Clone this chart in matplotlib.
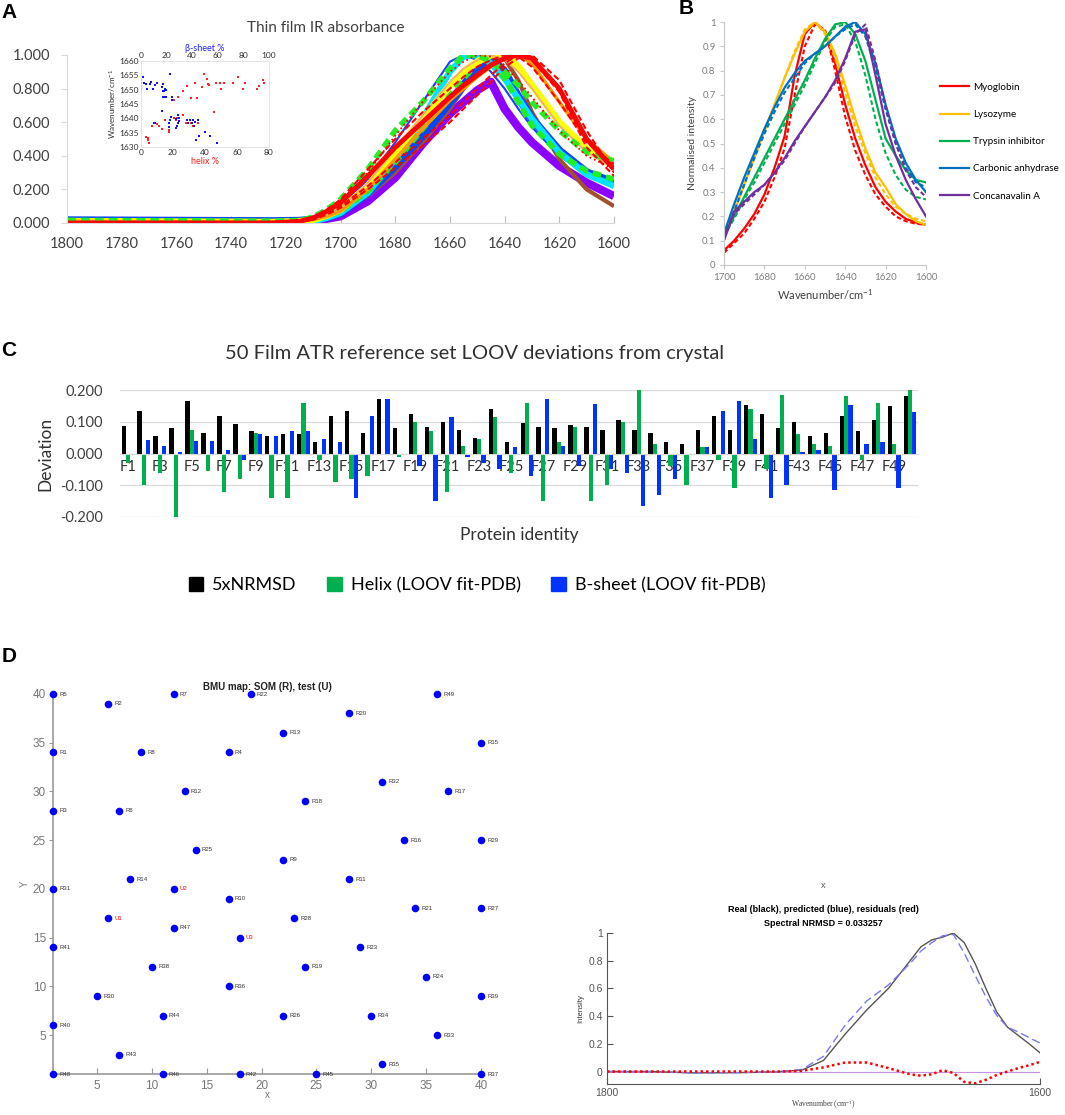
import numpy as np
import matplotlib
matplotlib.use("Agg")
import matplotlib.pyplot as plt
from matplotlib.patches import Patch
from matplotlib.ticker import FormatStrFormatter

plt.rcParams['font.family'] = ['Lato', 'DejaVu Sans']
plt.rcParams['mathtext.default'] = 'regular'
EXCEL = ['Lato', 'DejaVu Sans']
MATLAB = ['Liberation Sans', 'DejaVu Sans']

# ---------------- panel A: thin film spectra ----------------
wn_a = [1800, 1725, 1715, 1710, 1705, 1700, 1690, 1680, 1670, 1660,
        1655, 1650, 1645, 1640, 1635, 1630, 1620, 1610, 1600]
a_purple = [0.010, 0.005, 0.010, 0.015, 0.025, 0.040, 0.130, 0.270, 0.470, 0.650,
            0.720, 0.790, 0.840, 0.680, 0.570, 0.480, 0.340, 0.240, 0.160]
a_brown = [0.010, 0.005, 0.010, 0.020, 0.040, 0.070, 0.160, 0.300, 0.480, 0.680,
           0.800, 0.900, 0.970, 0.980, 0.850, 0.660, 0.380, 0.200, 0.100]
a_blue = [0.015, 0.010, 0.012, 0.020, 0.035, 0.060, 0.180, 0.340, 0.520, 0.720,
          0.820, 0.920, 0.980, 0.900, 0.750, 0.620, 0.430, 0.300, 0.240]
a_blue2 = [0.015, 0.010, 0.015, 0.030, 0.060, 0.100, 0.260, 0.480, 0.720, 0.960,
           1.000, 0.970, 0.900, 0.800, 0.680, 0.570, 0.400, 0.290, 0.230]
a_cyan = [0.005, 0.000, 0.005, 0.010, 0.030, 0.060, 0.180, 0.380, 0.620, 0.900,
          0.990, 1.000, 0.950, 0.860, 0.740, 0.620, 0.420, 0.290, 0.220]
a_green2 = [0.010, 0.005, 0.010, 0.020, 0.040, 0.070, 0.190, 0.360, 0.560, 0.760,
            0.860, 0.950, 1.000, 0.860, 0.720, 0.580, 0.410, 0.310, 0.260]
a_yellow = [0.010, 0.005, 0.010, 0.020, 0.045, 0.080, 0.220, 0.420, 0.620, 0.820,
            0.900, 0.960, 1.000, 1.000, 0.930, 0.820, 0.600, 0.440, 0.340]
a_orange = [0.010, 0.005, 0.010, 0.020, 0.040, 0.070, 0.200, 0.380, 0.560, 0.730,
            0.800, 0.870, 0.930, 0.980, 1.000, 0.950, 0.720, 0.500, 0.360]
a_salmon = [0.010, 0.005, 0.010, 0.020, 0.050, 0.090, 0.240, 0.440, 0.640, 0.840,
            0.920, 0.970, 1.000, 0.970, 0.900, 0.800, 0.580, 0.420, 0.330]
a_green1 = [0.015, 0.010, 0.015, 0.035, 0.080, 0.140, 0.320, 0.550, 0.720, 0.920,
            1.000, 1.000, 0.960, 0.900, 0.820, 0.720, 0.550, 0.420, 0.370]
a_red1 = [0.000, 0.000, 0.010, 0.030, 0.070, 0.120, 0.280, 0.450, 0.600, 0.750,
          0.820, 0.880, 0.940, 0.980, 1.000, 0.980, 0.800, 0.500, 0.320]
a_red2 = [0.000, 0.000, 0.010, 0.025, 0.060, 0.100, 0.220, 0.360, 0.500, 0.640,
          0.720, 0.800, 0.880, 0.950, 1.000, 0.970, 0.780, 0.450, 0.280]
a_red3 = [0.005, 0.000, 0.010, 0.035, 0.080, 0.140, 0.320, 0.500, 0.660, 0.800,
          0.870, 0.930, 0.970, 1.000, 0.990, 0.930, 0.720, 0.480, 0.350]
a_red4 = [0.005, 0.000, 0.010, 0.030, 0.070, 0.120, 0.300, 0.520, 0.720, 0.900,
          0.960, 1.000, 0.990, 0.930, 0.850, 0.750, 0.550, 0.400, 0.320]
a_red5 = [0.000, 0.000, 0.008, 0.020, 0.050, 0.090, 0.200, 0.330, 0.460, 0.600,
          0.680, 0.760, 0.840, 0.930, 0.980, 1.000, 0.850, 0.550, 0.300]

# inset: band position vs secondary structure content
helix_pct = [20.8, 23.3, 26.0, 28.9, 31.0, 34.7, 33.8, 37.9, 39.6, 41.0, 42.0, 42.7,
             46.8, 49.3, 49.9, 52.0, 57.6, 60.7, 63.8, 64.9, 72.8, 73.9, 76.0, 76.8,
             0.0, 0.0, 3.4, 4.2, 4.6, 5.2, 7.1, 8.5, 10.2, 11.4, 13.3, 15.0, 17.5, 17.5,
             20.8, 22.3, 21.8, 26.0, 28.1, 31.2, 32.3, 35.4, 45.8]
helix_wn = [1646.4, 1647.3, 1649.6, 1651.4, 1647.2, 1647.2, 1652.4, 1650.8, 1655.5, 1653.8,
            1652.0, 1651.5, 1652.4, 1652.4, 1650.3, 1652.4, 1652.4, 1654.3, 1650.3, 1652.4,
            1650.3, 1651.2, 1653.4, 1652.4,
            1640.2, 1637.3, 1633.4, 1633.3, 1632.5, 1631.3, 1637.2, 1638.4, 1637.9, 1637.5,
            1636.4, 1639.4, 1635.8, 1635.2, 1640.2, 1640.2, 1639.5, 1641.0, 1638.4, 1638.4,
            1637.3, 1638.4, 1642.3]
beta_pct = [1.3, 0.0, 0.0, 0.0, 0.0, 2.3, 3.8, 4.9, 6.7, 8.2, 9.2, 11.0, 12.5, 16.9,
            16.7, 17.2, 18.7, 22.6, 19.5, 16.9, 18.5, 19.5, 18.0, 24.0, 24.5,
            16.6, 11.0, 10.0, 23.3, 22.6, 21.5, 22.0, 27.0, 29.0, 29.5, 30.0, 28.5, 27.0,
            29.0, 36.1, 37.9, 40.4, 36.7, 40.0, 42.3, 44.4, 41.5, 49.7, 53.6, 45.1, 43.3,
            59.2]
beta_wn = [1654.5, 1653.4, 1652.2, 1651.2, 1650.3, 1652.4, 1652.0, 1650.4, 1652.0, 1652.7,
           1650.4, 1651.6, 1652.2, 1652.0, 1651.0, 1649.7, 1650.2, 1655.6, 1650.0, 1647.3,
           1647.3, 1647.3, 1649.5, 1646.3, 1647.3,
           1642.6, 1638.5, 1638.5, 1640.3, 1639.4, 1638.4, 1637.1, 1639.7, 1641.0, 1640.1,
           1639.0, 1637.2, 1636.5, 1638.4, 1639.5, 1639.5, 1639.5, 1638.5, 1638.5, 1638.7,
           1639.5, 1637.2, 1635.4, 1633.7, 1633.7, 1632.5, 1631.5]

# ---------------- panel B: model proteins, fit (solid) vs measured (dashed) ----------------
wn_b = [1700, 1695, 1690, 1685, 1680, 1675, 1670, 1665, 1660, 1655, 1650,
        1645, 1640, 1635, 1630, 1625, 1620, 1615, 1610, 1605, 1600]
b_names = ['Myoglobin', 'Lysozyme', 'Trypsin inhibitor', 'Carbonic anhydrase', 'Concanavalin A']
b_colors = ['#FF0000', '#FFC000', '#00B050', '#0070C0', '#7030A0']
myo_solid = [0.06, 0.10, 0.15, 0.21, 0.29, 0.40, 0.53, 0.78, 0.95, 1.00, 0.96,
             0.83, 0.66, 0.52, 0.41, 0.32, 0.26, 0.22, 0.19, 0.175, 0.165]
myo_dash = [0.05, 0.09, 0.13, 0.19, 0.26, 0.36, 0.48, 0.70, 0.90, 0.99, 0.97,
            0.80, 0.61, 0.47, 0.37, 0.29, 0.24, 0.20, 0.18, 0.17, 0.165]
lys_solid = [0.12, 0.22, 0.33, 0.44, 0.55, 0.66, 0.77, 0.87, 0.96, 1.00, 0.96,
             0.87, 0.74, 0.60, 0.48, 0.38, 0.32, 0.25, 0.21, 0.18, 0.165]
lys_dash = [0.12, 0.22, 0.33, 0.44, 0.55, 0.66, 0.77, 0.88, 0.97, 1.00, 0.95,
            0.85, 0.71, 0.57, 0.46, 0.36, 0.29, 0.24, 0.21, 0.19, 0.18]
tryp_solid = [0.12, 0.20, 0.28, 0.36, 0.44, 0.52, 0.60, 0.68, 0.76, 0.85, 0.93,
              0.99, 1.00, 0.95, 0.84, 0.68, 0.52, 0.45, 0.39, 0.35, 0.34]
tryp_dash = [0.12, 0.19, 0.27, 0.34, 0.42, 0.50, 0.58, 0.66, 0.74, 0.83, 0.92,
             0.98, 0.99, 0.92, 0.78, 0.60, 0.46, 0.37, 0.31, 0.28, 0.27]
carb_solid = [0.13, 0.25, 0.36, 0.46, 0.56, 0.65, 0.73, 0.79, 0.84, 0.87, 0.90,
              0.94, 0.98, 1.00, 0.95, 0.83, 0.66, 0.52, 0.42, 0.35, 0.30]
carb_dash = [0.12, 0.22, 0.33, 0.44, 0.54, 0.63, 0.71, 0.77, 0.83, 0.87, 0.90,
             0.94, 0.97, 0.99, 0.94, 0.81, 0.64, 0.50, 0.40, 0.34, 0.32]
conc_solid = [0.10, 0.22, 0.26, 0.30, 0.33, 0.38, 0.44, 0.51, 0.57, 0.63, 0.69,
              0.76, 0.85, 0.96, 0.97, 0.78, 0.58, 0.45, 0.35, 0.27, 0.20]
conc_dash = [0.11, 0.21, 0.25, 0.29, 0.33, 0.38, 0.43, 0.50, 0.57, 0.63, 0.69,
             0.75, 0.84, 0.95, 0.99, 0.84, 0.65, 0.50, 0.39, 0.32, 0.28]

# ---------------- panel C: LOOV deviations ----------------
c_labels = ['F%d' % i for i in range(1, 51)]
c_nrmsd = [0.088, 0.134, 0.055, 0.080, 0.166, 0.065, 0.118, 0.093, 0.070, 0.055,
           0.060, 0.062, 0.035, 0.118, 0.134, 0.065, 0.171, 0.080, 0.124, 0.085,
           0.100, 0.075, 0.050, 0.140, 0.035, 0.095, 0.085, 0.080, 0.090, 0.085,
           0.075, 0.105, 0.075, 0.065, 0.035, 0.030, 0.075, 0.118, 0.075, 0.152,
           0.124, 0.080, 0.100, 0.055, 0.065, 0.118, 0.070, 0.105, 0.150, 0.182]
c_helix = [-0.030, -0.100, -0.060, -0.200, 0.075, -0.055, -0.120, -0.080, 0.065, -0.140,
           -0.140, 0.158, -0.020, -0.090, -0.080, -0.070, 0.000, -0.010, 0.100, 0.070,
           -0.120, 0.025, 0.045, 0.115, -0.060, 0.159, -0.150, 0.035, 0.085, -0.150,
           -0.100, 0.100, 0.200, 0.030, -0.040, -0.100, 0.020, -0.020, -0.110, 0.140,
           -0.050, 0.185, 0.060, 0.030, 0.025, 0.182, -0.020, 0.159, 0.030, 0.200]
c_sheet = [0.000, 0.042, 0.025, 0.005, 0.040, 0.040, 0.010, -0.020, 0.060, 0.055,
           0.070, 0.070, 0.045, 0.035, -0.140, 0.118, 0.171, 0.000, -0.040, -0.150,
           0.114, -0.010, -0.030, -0.050, 0.020, -0.070, 0.171, 0.025, -0.040, 0.156,
           -0.050, -0.060, -0.165, -0.130, -0.080, 0.000, 0.020, 0.133, 0.165, 0.045,
           -0.140, -0.100, 0.005, 0.010, -0.115, 0.152, 0.030, 0.035, -0.110, 0.130]

# ---------------- panel D: SOM best matching units ----------------
r_names = ['R5', 'R2', 'R7', 'R22', 'R1', 'R8', 'R4', 'R12', 'R3', 'R6',
           'R25', 'R14', 'R31', 'R10', 'R41', 'R47', 'R38', 'R36', 'R30', 'R44',
           'R40', 'R43', 'R48', 'R46', 'R42', 'R49', 'R20', 'R13', 'R15', 'R32',
           'R17', 'R18', 'R16', 'R29', 'R9', 'R11', 'R21', 'R27', 'R28', 'R23',
           'R19', 'R24', 'R39', 'R26', 'R34', 'R33', 'R35', 'R45', 'R37']
r_x = [1, 6, 12, 19, 1, 9, 17, 13, 1, 7, 14, 8, 1, 17, 1, 12, 10, 17, 5, 11,
       1, 7, 1, 11, 18, 36, 28, 22, 40, 31, 37, 24, 33, 40, 22, 28, 34, 40, 23, 29,
       24, 35, 40, 22, 30, 36, 31, 25, 40]
r_y = [40, 39, 40, 40, 34, 34, 34, 30, 28, 28, 24, 21, 20, 19, 14, 16, 12, 10, 9, 7,
       6, 3, 1, 1, 1, 40, 38, 36, 35, 31, 30, 29, 25, 25, 23, 21, 18, 18, 17, 14,
       12, 11, 9, 7, 7, 5, 2, 1, 1]
u_names = ['U1', 'U2', 'U3']
u_x = [6, 12, 18]
u_y = [17, 20, 15]

# test spectrum: real vs predicted
wn_d = [1800, 1780, 1760, 1740, 1730, 1720, 1710, 1700, 1690, 1680, 1670, 1660,
        1655, 1650, 1645, 1640, 1635, 1630, 1625, 1620, 1615, 1610, 1605, 1600]
d_real = [0.000, 0.000, -0.010, -0.008, -0.005, 0.000, 0.010, 0.080, 0.270, 0.445,
          0.600, 0.800, 0.900, 0.950, 0.970, 1.000, 0.930, 0.780, 0.600, 0.430,
          0.320, 0.260, 0.200, 0.135]
d_pred = [0.000, 0.000, -0.010, -0.008, -0.005, 0.000, 0.015, 0.110, 0.335, 0.510,
          0.625, 0.780, 0.870, 0.930, 0.980, 0.990, 0.855, 0.695, 0.540, 0.405,
          0.320, 0.285, 0.245, 0.205]

W, H = 1065, 1115
fig = plt.figure(figsize=(W / 100, H / 100), dpi=100)


def box(x0, y0, x1, y1):
    # pixel box measured from the top-left corner -> figure fraction
    return [x0 / W, 1 - y1 / H, (x1 - x0) / W, (y1 - y0) / H]


def fx(x):
    return x / W


def fy(y):
    return 1 - y / H


# ---------- A ----------
ax = fig.add_axes(box(67, 55, 614, 223))
a_styles = [
    (a_purple, '#8B00FF', 6.0, '-'),
    (a_brown, '#A0522D', 3.0, '-'),
    (a_blue, '#0047FF', 6.0, '-'),
    (a_blue2, '#1E3CFF', 1.5, '-'),
    (a_cyan, '#00E5FF', 4.5, '-'),
    (a_green2, '#22EE22', 4.0, (0, (1.6, 0.9))),
    (a_yellow, '#FFFF00', 5.0, '-'),
    (a_orange, '#FF9900', 2.5, '-'),
    (a_salmon, '#F4A582', 1.2, '-'),
    (a_green1, '#22EE22', 4.0, (0, (1.6, 0.9))),
    (a_red1, '#FF0000', 3.5, '-'),
    (a_red2, '#FF0000', 1.5, (0, (3, 1.5))),
    (a_red3, '#FF0000', 1.5, (0, (3, 1.5))),
    (a_red4, '#FF0000', 1.3, ':'),
    (a_red5, '#FF0000', 1.5, (0, (3, 1.5))),
]
for vals, col, lw, ls in a_styles:
    ax.plot(wn_a, vals, color=col, lw=lw, ls=ls, solid_capstyle='butt')
ax.set_xlim(1800, 1600)
ax.set_ylim(0, 1)
ax.set_xticks(range(1800, 1599, -20))
ax.set_yticks([0, 0.2, 0.4, 0.6, 0.8, 1.0])
ax.yaxis.set_major_formatter(FormatStrFormatter('%.3f'))
for s in ['top', 'right']:
    ax.spines[s].set_visible(False)
for s in ['left', 'bottom']:
    ax.spines[s].set_color('#D9D9D9')
ax.tick_params(axis='x', direction='in', length=5, color='#BFBFBF', labelsize=10.5,
               labelcolor='#404040', pad=10)
ax.tick_params(axis='y', direction='out', length=4, color='#D9D9D9', labelsize=10.5,
               labelcolor='#404040', pad=8)
fig.text(fx(326), fy(28), 'Thin film IR absorbance', ha='center', va='center',
         fontsize=11, color='#404040')

# inset
axi = fig.add_axes(box(141, 61, 269, 147))
axi.set_facecolor('none')
axi.scatter(helix_pct, helix_wn, s=3, marker='s', color='#FF2020', lw=0)
axi.set_xlim(0, 80)
axi.set_ylim(1630, 1660)
axi.set_xticks([0, 20, 40, 60, 80])
axi.set_yticks(range(1630, 1661, 5))
axt = axi.twiny()
axt.scatter(beta_pct, beta_wn, s=3, marker='s', color='#1010FF', lw=0)
axt.set_xlim(0, 100)
axt.set_xticks([0, 20, 40, 60, 80, 100])
for a in (axi, axt):
    for s in a.spines.values():
        s.set_color('#E4E4E4')
        s.set_linewidth(0.6)
    a.tick_params(length=0, labelsize=6, labelcolor='#303030', pad=1.5)
axi.set_xlabel('helix %', fontsize=6.5, color='#FF2020', labelpad=1)
axt.set_xlabel('\u03b2-sheet %', fontsize=6.5, color='#2020FF', labelpad=1)
axi.set_ylabel('Wavenumber/cm$^{-1}$', fontsize=5.8, labelpad=1, color='#303030')

# ---------- B ----------
axb = fig.add_axes(box(724, 22, 926, 265))
b_solid = [myo_solid, lys_solid, tryp_solid, carb_solid, conc_solid]
b_dash = [myo_dash, lys_dash, tryp_dash, carb_dash, conc_dash]
handles = []
for name, col, sv, dv in zip(b_names, b_colors, b_solid, b_dash):
    axb.plot(wn_b, dv, color=col, lw=1.5, ls=(0, (2.2, 1.3)))
    h, = axb.plot(wn_b, sv, color=col, lw=1.6, label=name)
    handles.append(h)
axb.set_xlim(1700, 1600)
axb.set_ylim(0, 1)
axb.set_xticks(range(1700, 1599, -20))
axb.set_yticks(np.arange(0, 1.01, 0.1))
axb.set_yticklabels(['0', '0.1', '0.2', '0.3', '0.4', '0.5', '0.6', '0.7', '0.8', '0.9', '1'])
for s in ['top', 'right']:
    axb.spines[s].set_visible(False)
for s in ['left', 'bottom']:
    axb.spines[s].set_color('#C8C8C8')
axb.tick_params(direction='out', length=3, color='#C8C8C8', labelsize=7,
                labelcolor='#7F7F7F', pad=3)
axb.set_xlabel('Wavenumber/cm$^{-1}$', fontsize=8, color='#404040', labelpad=4)
axb.set_ylabel('Normalised intensity', fontsize=7.5, color='#404040', labelpad=4)
axb.legend(handles=handles, loc='upper left', bbox_to_anchor=(1.068, 0.75),
           frameon=False, fontsize=7.1, handlelength=3.0, handletextpad=0.4,
           labelspacing=1.85, borderaxespad=0, borderpad=0)

# ---------- C ----------
axc = fig.add_axes(box(120, 390, 918, 517))
xc = np.arange(len(c_labels))
bw = 0.27
axc.bar(xc - bw, c_nrmsd, width=bw, color='#000000', label='5xNRMSD')
axc.bar(xc, c_helix, width=bw, color='#00B050', label='Helix (LOOV fit-PDB)')
axc.bar(xc + bw, c_sheet, width=bw, color='#0033FF', label='B-sheet (LOOV fit-PDB)')
axc.set_xlim(-0.5, len(c_labels) - 0.5)
axc.set_ylim(-0.2, 0.2)
axc.set_yticks([-0.2, -0.1, 0, 0.1, 0.2])
axc.yaxis.set_major_formatter(FormatStrFormatter('%.3f'))
axc.set_axisbelow(True)
axc.yaxis.grid(True, color='#D9D9D9', lw=0.9)
for s in ['top', 'right', 'left']:
    axc.spines[s].set_visible(False)
axc.spines['bottom'].set_position(('data', 0))
axc.spines['bottom'].set_color('#D9D9D9')
axc.set_xticks(xc[::2])
axc.set_xticklabels(c_labels[::2])
axc.tick_params(axis='x', length=0, labelsize=10.5, labelcolor='#303030', pad=5)
axc.tick_params(axis='y', length=0, labelsize=10.5, labelcolor='#404040', pad=12)
axc.set_ylabel('Deviation', fontsize=12.5, color='#303030', labelpad=5)
fig.text(fx(475), fy(354), '50 Film ATR reference set LOOV deviations from crystal',
         ha='center', va='center', fontsize=14.5, color='#303030')
fig.text(fx(519), fy(535), 'Protein identity', ha='center', va='center',
         fontsize=12.5, color='#303030')
leg_h = [Patch(color='#000000'), Patch(color='#00B050'), Patch(color='#0033FF')]
fig.legend(leg_h, ['5xNRMSD', 'Helix (LOOV fit-PDB)', 'B-sheet (LOOV fit-PDB)'],
           loc='center', bbox_to_anchor=(fx(477), fy(585)), ncol=3, frameon=False,
           fontsize=13, handlelength=0.8, handleheight=0.8, handletextpad=0.5,
           columnspacing=1.7)

# ---------- D (left): BMU map ----------
axd = fig.add_axes(box(53, 694, 481, 1074))
axd.scatter(r_x, r_y, s=20, color='#0000FF', zorder=3, clip_on=False)
axd.scatter(u_x, u_y, s=20, color='#0000FF', zorder=3, clip_on=False)
for n, x, y in zip(r_names, r_x, r_y):
    axd.annotate(n, (x, y), xytext=(4.5, 0), textcoords='offset points', fontsize=4.3,
                 va='center', color='#333333', family=MATLAB, annotation_clip=False)
for n, x, y in zip(u_names, u_x, u_y):
    axd.annotate(n, (x, y), xytext=(4.5, 0), textcoords='offset points', fontsize=4.3,
                 va='center', color='#FF0000', family=MATLAB, annotation_clip=False)
axd.set_xlim(1, 40)
axd.set_ylim(1, 40)
axd.set_xticks(range(5, 41, 5))
axd.set_yticks(range(5, 41, 5))
for s in ['top', 'right']:
    axd.spines[s].set_visible(False)
for s in ['left', 'bottom']:
    axd.spines[s].set_color('#999999')
    axd.spines[s].set_linewidth(1.2)
axd.tick_params(axis='x', direction='in', length=4, color='#999999', labelsize=8.5,
                labelcolor='#777777', pad=4)
axd.tick_params(axis='y', direction='out', length=3, color='#999999', labelsize=8.5,
                labelcolor='#777777', pad=2)
for lab in axd.get_xticklabels() + axd.get_yticklabels():
    lab.set_family(MATLAB)
axd.set_xlabel('x', fontsize=7, color='#777777', family=MATLAB, labelpad=-1)
axd.set_ylabel('Y', fontsize=7, color='#777777', family=MATLAB, labelpad=2)
fig.text(fx(267), fy(687), 'BMU map: SOM (R), test (U)', ha='center', va='center',
         fontsize=7, fontweight='bold', color='#222222', family=MATLAB)

# ---------- D (right): real vs predicted ----------
axr = fig.add_axes(box(607, 933, 1040, 1084))
d_resid = np.array(d_pred) - np.array(d_real)
axr.axhline(0, color='#C890E0', lw=0.8)
axr.plot(wn_d, d_real, color='#555555', lw=1.0)
axr.plot(wn_d, d_pred, color='#7878F0', lw=1.0, ls=(0, (6, 3)))
axr.plot(wn_d, d_resid, color='#FF0000', lw=1.8, ls=(0, (1, 1.2)))
axr.set_xlim(1800, 1600)
axr.set_ylim(-0.09, 1)
axr.set_xticks([1800, 1600])
axr.set_yticks([0, 0.2, 0.4, 0.6, 0.8, 1.0])
axr.set_yticklabels(['0', '0.2', '0.4', '0.6', '0.8', '1'])
for s in ['top', 'right']:
    axr.spines[s].set_visible(False)
for s in ['left', 'bottom']:
    axr.spines[s].set_color('#555555')
    axr.spines[s].set_linewidth(0.8)
axr.tick_params(direction='in', length=4, color='#555555', labelsize=7.5,
                labelcolor='#555555', pad=3)
for lab in axr.get_xticklabels() + axr.get_yticklabels():
    lab.set_family(MATLAB)
axr.set_ylabel('Intensity', fontsize=5.5, color='#333333', family=MATLAB, labelpad=3)
axr.set_xlabel('Wavenumber ($cm^{-1}$)', fontsize=5.5, color='#444444',
               family='Liberation Serif', labelpad=0.5)
fig.text(fx(823), fy(909), 'Real (black), predicted (blue), residuals (red)',
         ha='center', va='center', fontsize=6.5, fontweight='bold', family=MATLAB)
fig.text(fx(823), fy(924), 'Spectral NRMSD = 0.033257', ha='center', va='center',
         fontsize=6.5, fontweight='bold', family=MATLAB)
fig.text(fx(823), fy(886), 'x', ha='center', va='center', fontsize=6.5,
         color='#555555', family=MATLAB)

# panel letters
for letter, x, y in [('A', 9, 13), ('B', 686, 9), ('C', 9, 350), ('D', 9, 656)]:
    fig.text(fx(x), fy(y), letter, ha='center', va='center', fontsize=15,
             fontweight='bold', family=MATLAB)

fig.savefig('out.png', dpi=100)
